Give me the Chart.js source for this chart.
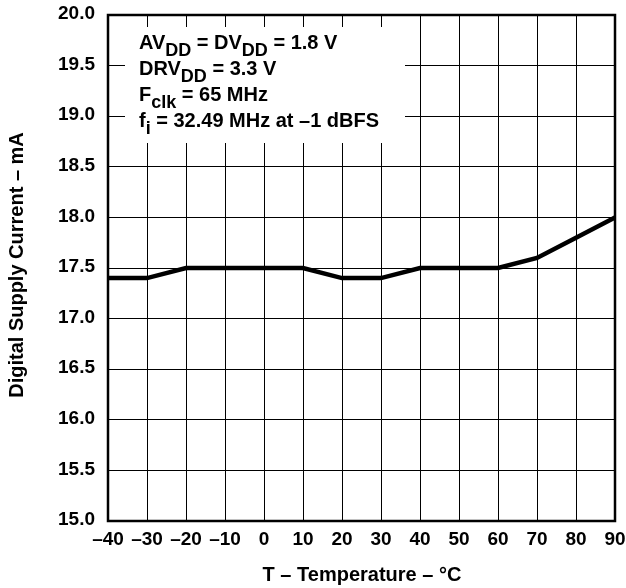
<!DOCTYPE html>
<html>
<head>
<meta charset="utf-8">
<script src="https://cdn.jsdelivr.net/npm/chart.js@4"></script>
<style>
  html, body { margin: 0; padding: 0; background: #fff; }
  #wrap { width: 626px; height: 588px; }
</style>
</head>
<body>
<div id="wrap"><canvas id="myChart" width="626" height="588"></canvas></div>
<script>
// Data
const temperatures = [-40, -30, -20, -10, 0, 10, 20, 30, 40, 50, 60, 70, 80, 90];
const supplyCurrent = [17.4, 17.4, 17.5, 17.5, 17.5, 17.5, 17.4, 17.4, 17.5, 17.5, 17.5, 17.6, 17.8, 18.0];
const yTicks = [15.0, 15.5, 16.0, 16.5, 17.0, 17.5, 18.0, 18.5, 19.0, 19.5, 20.0];
const xTitle = 'T \u2013 Temperature \u2013 \u00B0C';
const yTitle = 'Digital Supply Current \u2013 mA';
// annotation lines: [text, isSubscript] pieces
const noteLines = [
    [['AV', false], ['DD', true], [' = DV', false], ['DD', true], [' = 1.8 V', false]],
    [['DRV', false], ['DD', true], [' = 3.3 V', false]],
    [['F', false], ['clk', true], [' = 65 MHz', false]],
    [['f', false], ['i', true], [' = 32.49 MHz at \u20131 dBFS', false]]
];

const FONT = '"Liberation Sans", Arial, sans-serif';

function dash(v) {
    return v < 0 ? '\u2013' + Math.abs(v) : String(v);
}

const overlay = {
    id: 'overlay',
    beforeDatasetsDraw(chart) {
        const c = chart.ctx;
        // white box behind the notes
        c.save();
        c.fillStyle = '#fff';
        c.fillRect(125, 27, 280, 116);

        c.fillStyle = '#000';
        c.textBaseline = 'alphabetic';
        const baselines = [49, 75, 101, 127];
        noteLines.forEach((parts, i) => {
            let x = 139;
            parts.forEach(([txt, sub]) => {
                c.font = 'bold ' + (sub ? 18 : 20) + 'px ' + FONT;
                c.fillText(txt, x, baselines[i] + (sub ? 7 : 0));
                x += c.measureText(txt).width;
            });
        });
        c.restore();
    },
    afterDraw(chart) {
        const c = chart.ctx;
        const a = chart.chartArea;
        const xs = chart.scales.x;
        const ys = chart.scales.y;
        c.save();
        c.strokeStyle = '#000';
        c.lineWidth = 2.5;
        c.strokeRect(a.left, a.top, a.right - a.left, a.bottom - a.top);

        // tick labels
        c.fillStyle = '#000';
        c.font = 'bold 19px ' + FONT;
        c.textBaseline = 'middle';
        c.textAlign = 'right';
        yTicks.forEach(v => c.fillText(v.toFixed(1), 95, ys.getPixelForValue(v) - 1));
        c.textAlign = 'center';
        temperatures.forEach(v => c.fillText(dash(v), xs.getPixelForValue(v), 540));

        // axis titles
        c.font = 'bold 20px ' + FONT;
        c.fillText(xTitle, 362, 575);
        c.translate(17, 265);
        c.rotate(-Math.PI / 2);
        c.fillText(yTitle, 0, 0);
        c.restore();
    }
};

const ctx = document.getElementById('myChart').getContext('2d');
const myChart = new Chart(ctx, {
    type: 'line',
    data: {
        datasets: [{
            data: temperatures.map((t, i) => ({ x: t, y: supplyCurrent[i] })),
            borderColor: '#000',
            borderWidth: 4.5,
            pointRadius: 0,
            tension: 0,
            fill: false
        }]
    },
    options: {
        responsive: false,
        animation: false,
        devicePixelRatio: 1,
        layout: { padding: { left: 0, top: 15, right: 11, bottom: 0 } },
        plugins: {
            legend: { display: false },
            tooltip: { enabled: false }
        },
        scales: {
            x: {
                type: 'linear',
                min: -40,
                max: 90,
                afterFit: s => { s.height = 67; },
                afterBuildTicks: s => { s.ticks = temperatures.map(v => ({ value: v })); },
                grid: { color: '#000', lineWidth: 1, drawTicks: false },
                border: { display: false },
                ticks: { display: false }
            },
            y: {
                min: 15,
                max: 20,
                afterFit: s => { s.width = 108; },
                afterBuildTicks: s => { s.ticks = yTicks.map(v => ({ value: v })); },
                grid: { color: '#000', lineWidth: 1, drawTicks: false },
                border: { display: false },
                ticks: { display: false }
            }
        }
    },
    plugins: [overlay]
});
</script>
</body>
</html>
